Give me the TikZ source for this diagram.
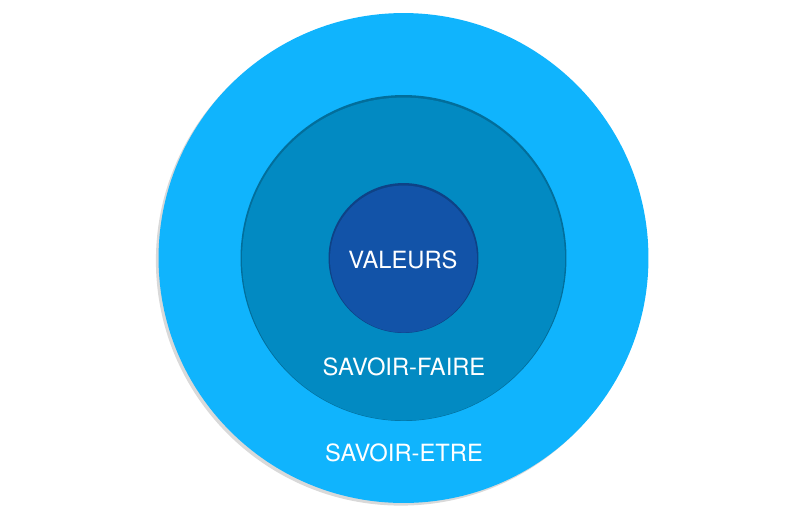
\documentclass[tikz,border=0pt]{standalone}
\usepackage{fontspec}
\setmainfont{TeX Gyre Heros}
\usepackage{tikz}
\usetikzlibrary{positioning,shadows}
\definecolor{etreblue}{RGB}{16,180,253}
\definecolor{faireblue}{RGB}{2,138,194}
\definecolor{valblue}{RGB}{18,83,168}
\tikzstyle{ring} = [circle, inner sep=0pt, draw=none]
\tikzstyle{label} = [text=white, font=\fontsize{13.5}{16}\selectfont, inner sep=0pt]

\begin{document}
\begin{tikzpicture}[x=0.02cm, y=-0.02cm]
    \useasboundingbox (0,0) rectangle (800,525);
    % Circles
    \node [ring, fill=etreblue, minimum size=9.8cm,
           drop shadow={opacity=0.3, shadow xshift=-1.5pt, shadow yshift=-1.5pt}] (etre) at (403.5,258) {};
    \node [ring, fill=faireblue!80!black, minimum size=6.52cm] (faire_rim) at (etre.center) {};
    \node [ring, fill=faireblue, minimum size=6.46cm, yshift=-0.6pt] (faire) at (etre.center) {};
    \node [ring, fill=valblue!80!black, minimum size=3.0cm] (val_rim) at (etre.center) {};
    \node [ring, fill=valblue, minimum size=2.94cm, yshift=-0.6pt] (val) at (etre.center) {};

    % Labels
    \node [label] (valeurs) at (403,260) {VALEURS};
    \node [label] (savoirfaire) at (404,367) {SAVOIR-FAIRE};
    \node [label] (savoiretre) at (404,453) {SAVOIR-ETRE};
\end{tikzpicture}
\end{document}
